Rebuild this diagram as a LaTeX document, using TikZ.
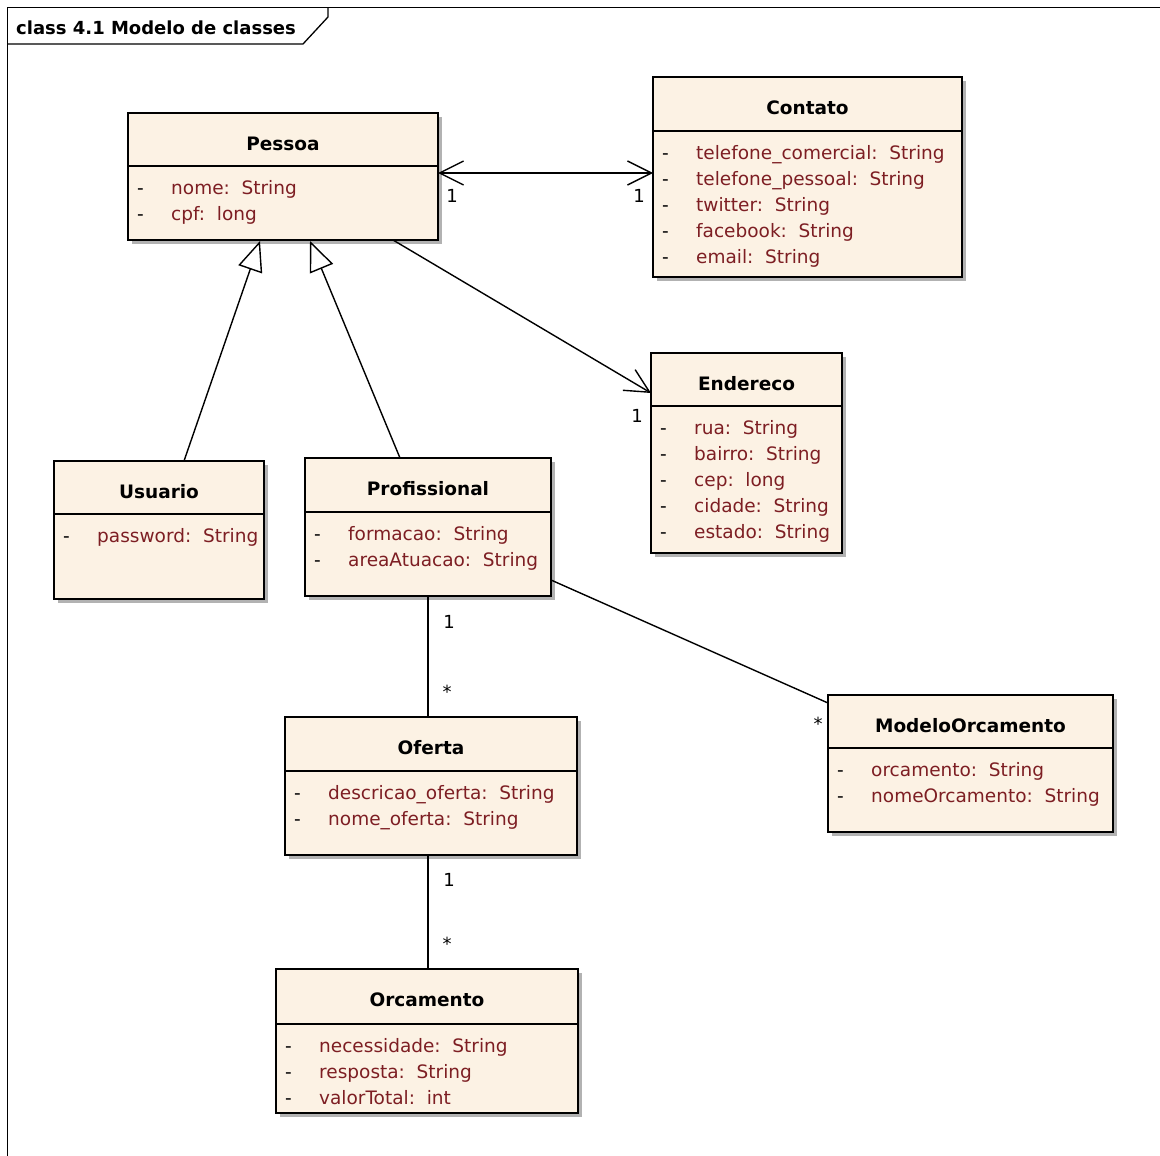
\documentclass[tikz,border=0pt]{standalone}
\usepackage{fontspec}
\setmainfont{DejaVu Sans}
\usetikzlibrary{arrows.meta,calc,shadows}
\definecolor{clsfill}{RGB}{252,242,228}
\definecolor{attrcol}{RGB}{125,30,35}
\definecolor{shadowcol}{RGB}{178,178,178}
\tikzset{
  clsbox/.style={draw=black, line width=1.5pt, fill=clsfill, inner sep=0pt, outer sep=0pt,
    anchor=north west, rectangle,
    drop shadow={shadow xshift=4pt, shadow yshift=-4pt, fill=shadowcol, opacity=1}},
  clstitle/.style={font=\fontsize{18.5}{22}\selectfont\bfseries, text=black, inner sep=0pt, anchor=base},
  clsattr/.style={font=\fontsize{18.5}{22}\selectfont, text=attrcol, inner sep=0pt, anchor=base west},
  clsdash/.style={font=\fontsize{18.5}{22}\selectfont, text=black, inner sep=0pt, anchor=base west},
  clsline/.style={line width=1.4pt, draw=black},
  conn/.style={line width=1.4pt, draw=black},
  navboth/.style={conn, {Straight Barb[length=24pt,width=24pt]}-{Straight Barb[length=24pt,width=24pt]}},
  navone/.style={conn, -{Straight Barb[length=24pt,width=24pt]}},
  genarrow/.style={conn, -{Triangle[length=30pt,width=25pt,fill=white]}},
  mult/.style={font=\fontsize{18}{20}\selectfont, text=black, inner sep=0pt},
  framelbl/.style={font=\fontsize{18}{20}\selectfont\bfseries, text=black, inner sep=0pt, anchor=base west}
}
% name, left, top, right, bottom, divider, title, attributes
\newcommand{\umlclass}[8]{%
  \node[clsbox, minimum width={(#4-#2)*1pt}, minimum height={(#5-#3)*1pt}] (#1) at (#2,#3) {};
  \draw[clsline] (#2,#6) -- (#4,#6);
  \node[clstitle] (#1-title) at ({(#2+#4)/2},{#3+37}) {#7};
  \foreach \a [count=\i] in {#8} {
    \node[clsdash] (#1-d\i) at ({#2+9},{#6+28+26*(\i-1)}) {-};
    \node[clsattr] (#1-a\i) at ({#2+43},{#6+28+26*(\i-1)}) {\a};
  }
}
\begin{document}
\begin{tikzpicture}[x=1pt,y=-1pt]
\fill[white] (0,0) rectangle (1160,1156);
\useasboundingbox (0,0) rectangle (1160,1156);

% frame
\draw[line width=1.5pt] (1160,7.5) -- (7.5,7.5) -- (7.5,1156);
\draw[line width=1.3pt] (7.5,44) -- (303,44) -- (328,17) -- (328,7.5);
\node[framelbl] (framelabel) at (16,35) {class 4.1 Modelo de classes};

% classes
\umlclass{pessoa}{128}{113}{438}{240}{166}{Pessoa}{nome:\ \ String, cpf:\ \ long}
\umlclass{contato}{653}{77}{962}{277}{131}{Contato}{telefone\_comercial:\ \ String, telefone\_pessoal:\ \ String, twitter:\ \ String, facebook:\ \ String, email:\ \ String}
\umlclass{endereco}{651}{353}{842}{553}{406}{Endereco}{rua:\ \ String, bairro:\ \ String, cep:\ \ long, cidade:\ \ String, estado:\ \ String}
\umlclass{usuario}{54}{461}{264}{599}{514}{Usuario}{password:\ \ String}
\umlclass{profissional}{305}{458}{551}{596}{512}{Profissional}{formacao:\ \ String, areaAtuacao:\ \ String}
\umlclass{oferta}{285}{717}{577}{855}{771}{Oferta}{descricao\_oferta:\ \ String, nome\_oferta:\ \ String}
\umlclass{modelo}{828}{695}{1113}{832}{748}{ModeloOrcamento}{orcamento:\ \ String, nomeOrcamento:\ \ String}
\umlclass{orcamento}{276}{969}{578}{1113}{1024}{Orcamento}{necessidade:\ \ String, resposta:\ \ String, valorTotal:\ \ int}

% connectors
\draw[navboth] ($(pessoa.east)+(0,-3.5)$) -- ($(contato.west)+(0,-4)$);
\draw[navone] ($(pessoa.south west)+(265,0)$) -- ($(endereco.north west)+(0,40)$);
\draw[genarrow] ($(usuario.north west)+(130,0)$) -- ($(pessoa.south west)+(132,1)$);
\draw[genarrow] ($(profissional.north west)+(95,0)$) -- ($(pessoa.south west)+(182,1)$);
\draw[conn] ($(profissional.south west)+(123,0)$) -- ($(oferta.north west)+(143,0)$);
\draw[conn] ($(profissional.north east)+(0,122)$) -- ($(modelo.north west)+(0,8)$);
\draw[conn] ($(oferta.south west)+(143,0)$) -- ($(orcamento.north west)+(152,0)$);

% multiplicities
\node[mult] (m1) at (452,196) {1};
\node[mult] (m2) at (639,196) {1};
\node[mult] (m3) at (637,416) {1};
\node[mult] (m4) at (449,622) {1};
\node[mult] (m5) at (447,692) {*};
\node[mult] (m6) at (818,724) {*};
\node[mult] (m7) at (449,880) {1};
\node[mult] (m8) at (447,944) {*};
\end{tikzpicture}
\end{document}
